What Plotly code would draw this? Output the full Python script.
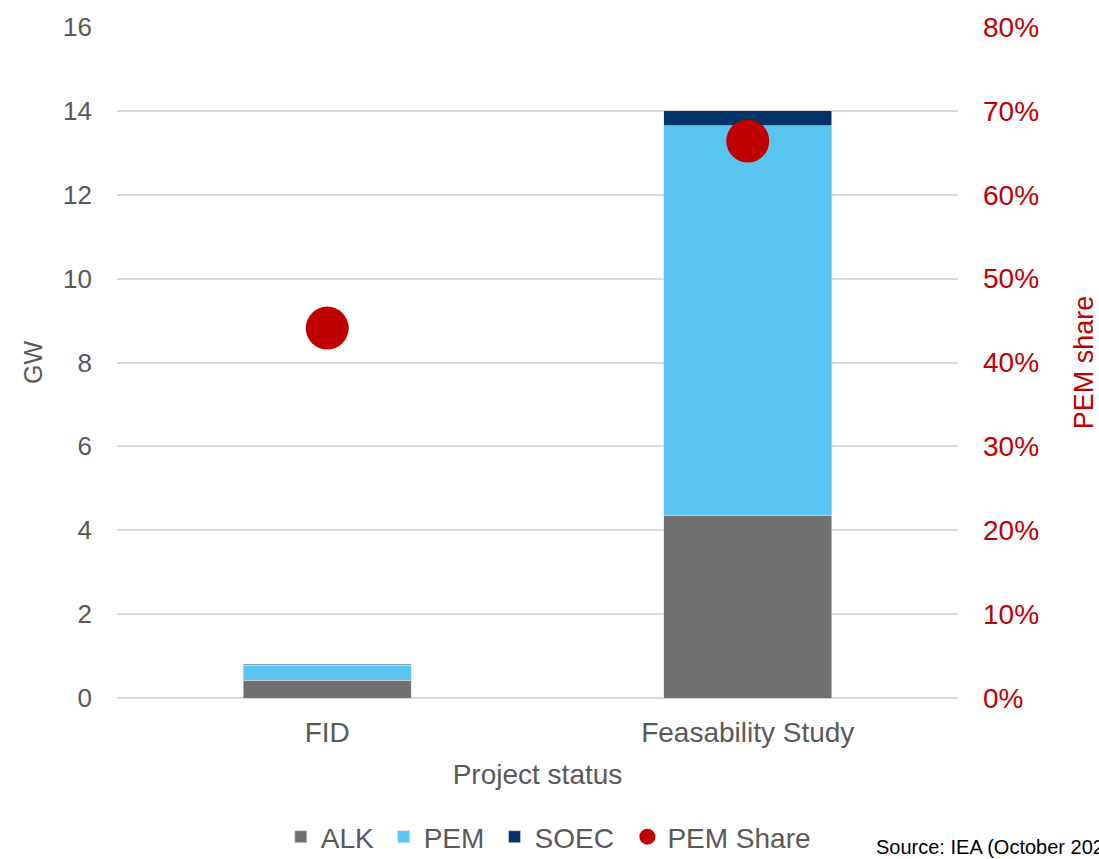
import plotly.graph_objects as go

# Electrolyser capacity by project status (GW) and PEM share
categories = ["FID", "Feasability Study"]
alk_gw = [0.42, 4.35]
pem_gw = [0.36, 9.30]
soec_gw = [0.03, 0.35]
pem_share = [0.441, 0.664]

y_ticks_gw = list(range(0, 17, 2))
share_ticks = [i / 10 for i in range(0, 9)]

FONT = "Liberation Sans, Arial, sans-serif"
GREY_TXT = "#595959"
RED = "#c00000"

PLOT_L, PLOT_W, PLOT_B, PLOT_H = 117, 842, 698, 671


def px_x(px):
    return (px - PLOT_L) / PLOT_W


def px_y(px):
    return (PLOT_B - px) / PLOT_H


fig = go.Figure()
fig.add_trace(go.Bar(name="ALK", x=categories, y=alk_gw, marker_color="#707070",
                     marker_line=dict(width=0.6, color="#dddddd"), legend="legend"))
fig.add_trace(go.Bar(name="PEM", x=categories, y=pem_gw, marker_color="#5bc5f2",
                     marker_line=dict(width=0.6, color="#dddddd"), legend="legend2"))
fig.add_trace(go.Bar(name="SOEC", x=categories, y=soec_gw, marker_color="#003466",
                     marker_line=dict(width=0.6, color="#dddddd"), legend="legend3"))
fig.add_trace(go.Scatter(name="PEM Share", x=categories, y=pem_share, yaxis="y2",
                         mode="markers", marker=dict(color=RED, size=43), legend="legend4"))

# one single-entry legend per series, laid out in a row under the x axis title
legend_style = dict(orientation="h", xanchor="left", y=px_y(862), yanchor="bottom",
                    font=dict(size=28, color=GREY_TXT), itemwidth=30,
                    bgcolor="rgba(0,0,0,0)", borderwidth=0)

fig.update_layout(
    width=1099, height=859,
    paper_bgcolor="white", plot_bgcolor="white",
    margin=dict(l=117, r=141, t=27, b=161, autoexpand=False),
    barmode="stack", bargap=0.6,
    showlegend=True,
    font=dict(family=FONT, size=26, color=GREY_TXT),
    xaxis=dict(
        title=dict(text="Project status", font=dict(size=28, color=GREY_TXT), standoff=17),
        tickfont=dict(size=28, color=GREY_TXT), ticks="", showgrid=False,
        showline=False, ticklabelstandoff=15, automargin=False,
    ),
    yaxis=dict(
        title=dict(text="GW", font=dict(size=25, color=GREY_TXT), standoff=13),
        range=[0, 16], tickvals=y_ticks_gw, tickfont=dict(size=26, color=GREY_TXT),
        gridcolor="#d9d9d9", gridwidth=1.5, zeroline=True, zerolinecolor="#d9d9d9",
        zerolinewidth=1.5, ticks="", ticklabelstandoff=24, automargin=False,
    ),
    yaxis2=dict(
        title=dict(text="PEM share", font=dict(size=27, color=RED), standoff=50),
        overlaying="y", side="right", range=[0, 0.8], tickvals=share_ticks,
        tickformat=".0%", tickfont=dict(size=28, color=RED), showgrid=False,
        zeroline=False, ticks="", ticklabelstandoff=24, automargin=False,
    ),
    legend=dict(x=px_x(281), **legend_style),
    legend2=dict(x=px_x(384), **legend_style),
    legend3=dict(x=px_x(495), **legend_style),
    legend4=dict(x=px_x(628), **legend_style),
    annotations=[dict(
        text="Source: IEA (October 2023)", xref="paper", yref="paper",
        x=px_x(875), y=px_y(847), xanchor="left", yanchor="middle",
        showarrow=False, font=dict(size=20, color="black", family=FONT),
    )],
)

fig.write_html("out.html")
